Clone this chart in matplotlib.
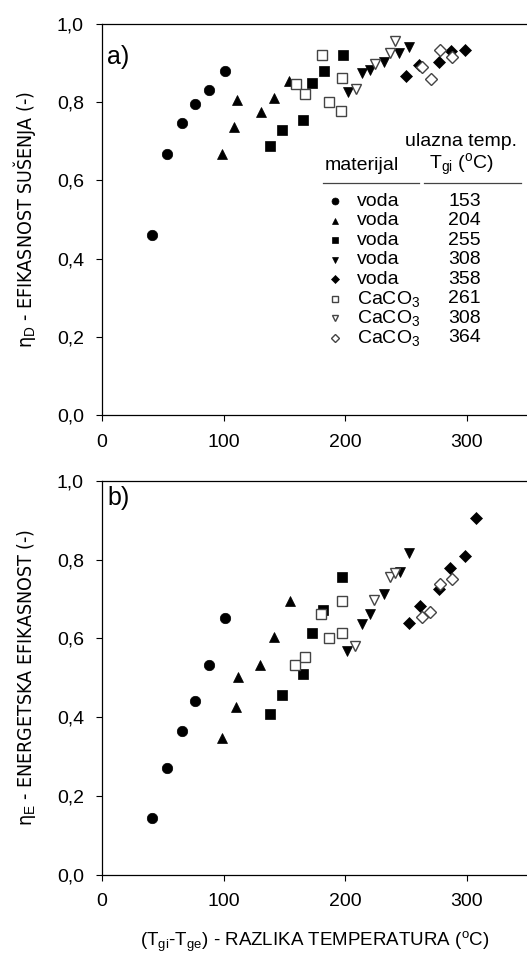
import numpy as np
import matplotlib
matplotlib.use("Agg")
import matplotlib.pyplot as plt
from matplotlib.ticker import FuncFormatter

plt.rcParams['font.family'] = ['Liberation Sans', 'DejaVu Sans']
plt.rcParams['mathtext.fontset'] = 'custom'
plt.rcParams['mathtext.rm'] = 'Liberation Sans'
plt.rcParams['mathtext.it'] = 'Liberation Sans:italic'

# series labels: (material, inlet temperature)
materials = ['voda', 'voda', 'voda', 'voda', 'voda', 'CaCO$_3$', 'CaCO$_3$', 'CaCO$_3$']
t_inlet = ['153', '204', '255', '308', '358', '261', '308', '364']
markers = ['o', '^', 's', 'v', 'D', 's', 'v', 'D']
filled = [True, True, True, True, True, False, False, False]

# panel a) drying efficiency, x = Tgi - Tge
x_a = [
    [41, 53.7, 66, 76.7, 87.6, 100.8],
    [98.3, 108.5, 110.7, 130.4, 141, 154],
    [138, 147.6, 164.9, 172.8, 182.7, 197.8],
    [201.9, 213.4, 220.2, 232, 244.3, 252.5],
    [250.3, 260.5, 277.2, 286.5, 298.6],
    [159.1, 166.8, 181, 186.5, 197.2, 196.1],
    [208.4, 224.3, 236.6, 240.8],
    [262.7, 270.1, 277.7, 287.9],
]
y_a = [
    [0.46, 0.669, 0.748, 0.795, 0.831, 0.880],
    [0.668, 0.737, 0.807, 0.774, 0.812, 0.854],
    [0.689, 0.729, 0.754, 0.849, 0.881, 0.921],
    [0.827, 0.876, 0.882, 0.904, 0.925, 0.942],
    [0.867, 0.895, 0.902, 0.932, 0.935],
    [0.846, 0.820, 0.922, 0.801, 0.861, 0.777],
    [0.835, 0.898, 0.925, 0.957],
    [0.891, 0.859, 0.935, 0.915],
]

# panel b) energy efficiency
x_b = [
    [41.1, 53.7, 66, 76.4, 87.6, 101.1],
    [98.6, 109.9, 112, 129.8, 141, 154.2],
    [138, 147.6, 164.9, 172.6, 181.8, 197.5],
    [201.6, 213.4, 220.2, 231.7, 244.9, 252.5],
    [252.3, 261.3, 276.9, 286, 298.3, 307.3],
    [158.6, 166.8, 179.9, 186.5, 196.9, 196.9],
    [208, 223.7, 236.6, 240.8],
    [263.2, 269.5, 277.7, 287.4],
]
y_b = [
    [0.145, 0.272, 0.365, 0.442, 0.532, 0.653],
    [0.348, 0.426, 0.503, 0.532, 0.604, 0.695],
    [0.407, 0.456, 0.509, 0.613, 0.672, 0.755],
    [0.569, 0.636, 0.663, 0.712, 0.769, 0.816],
    [0.640, 0.683, 0.725, 0.779, 0.810, 0.905],
    [0.533, 0.552, 0.662, 0.602, 0.613, 0.695],
    [0.581, 0.697, 0.755, 0.766],
    [0.655, 0.668, 0.738, 0.752],
]

fig = plt.figure(figsize=(5.27, 9.58), dpi=100)
ax1 = fig.add_axes([0.1935, 0.5668, 0.808, 0.408])
ax2 = fig.add_axes([0.1935, 0.0870, 0.808, 0.411])

comma = FuncFormatter(lambda v, p: ('%.1f' % v).replace('.', ','))


def style(m, f, size):
    if f:
        return dict(marker=m, markersize=size, markerfacecolor='black',
                    markeredgecolor='black', markeredgewidth=0.5, linestyle='none')
    return dict(marker=m, markersize=size, markerfacecolor='white',
                markeredgecolor='#444444', markeredgewidth=1.0, linestyle='none')


def msize(m, base):
    if m == 'D':
        return base * 0.8
    if m == 's':
        return base * 0.9
    return base


for ax, xs, ys in [(ax1, x_a, y_a), (ax2, x_b, y_b)]:
    for i in range(len(xs)):
        ax.plot(xs[i], ys[i], **style(markers[i], filled[i], msize(markers[i], 7.5)))
    ax.set_xlim(0, 350)
    ax.set_ylim(0, 1.0)
    ax.set_xticks([0, 100, 200, 300])
    ax.set_yticks([0, 0.2, 0.4, 0.6, 0.8, 1.0])
    ax.yaxis.set_major_formatter(comma)
    ax.spines['right'].set_visible(False)
    for s in ['left', 'bottom', 'top']:
        ax.spines[s].set_linewidth(0.9)
    ax.tick_params(direction='out', length=4.5, width=0.8, labelsize=14,
                   top=False, right=False)
    ax.tick_params(axis='y', pad=8.5)
    ax.tick_params(axis='x', pad=9)

ax1.text(0.012, 0.916, 'a)', transform=ax1.transAxes, fontsize=18, va='center', ha='left')
ax2.text(0.012, 0.957, 'b)', transform=ax2.transAxes, fontsize=18, va='center', ha='left')

# narrow font for the y labels, eta kept upright
lab = dict(fontsize=14, family=['DejaVu Sans'], stretch='condensed')
ax1.set_ylabel(r'η$_{\mathrm{D}}$ - EFIKASNOST SUŠENJA (-)', **lab)
ax2.set_ylabel(r'η$_{\mathrm{E}}$ - ENERGETSKA EFIKASNOST (-)', **lab)
ax1.yaxis.set_label_coords(-0.15, 0.5)
ax2.yaxis.set_label_coords(-0.15, 0.5)
ax2.set_xlabel(r'(T$_{\mathrm{gi}}$-T$_{\mathrm{ge}}$) - RAZLIKA TEMPERATURA ($^{\mathrm{o}}$C)',
               fontsize=13.5, labelpad=14)

# table-style legend in panel a
fs = 14
ax1.text(0.844, 0.699, 'ulazna temp.', transform=ax1.transAxes, fontsize=fs, ha='center', va='center')
ax1.text(0.610, 0.639, 'materijal', transform=ax1.transAxes, fontsize=fs, ha='center', va='center')
ax1.text(0.844, 0.639, r'T$_{\mathrm{gi}}$ ($^{\mathrm{o}}$C)', transform=ax1.transAxes,
         fontsize=fs, ha='center', va='center')
ax1.plot([0.518, 0.745], [0.593, 0.593], transform=ax1.transAxes, color='#444444', lw=0.9, clip_on=False)
ax1.plot([0.756, 0.983], [0.593, 0.593], transform=ax1.transAxes, color='#444444', lw=0.9, clip_on=False)
row0 = 0.547
step = 0.0499
for i in range(len(materials)):
    yy = row0 - i * step
    ax1.plot([0.547], [yy], transform=ax1.transAxes,
             **style(markers[i], filled[i], msize(markers[i], 5.0)))
    ax1.text(0.599, yy, materials[i], transform=ax1.transAxes, fontsize=fs, ha='left', va='center')
    ax1.text(0.852, yy, t_inlet[i], transform=ax1.transAxes, fontsize=fs, ha='center', va='center')

fig.savefig('out.png', dpi=100)
